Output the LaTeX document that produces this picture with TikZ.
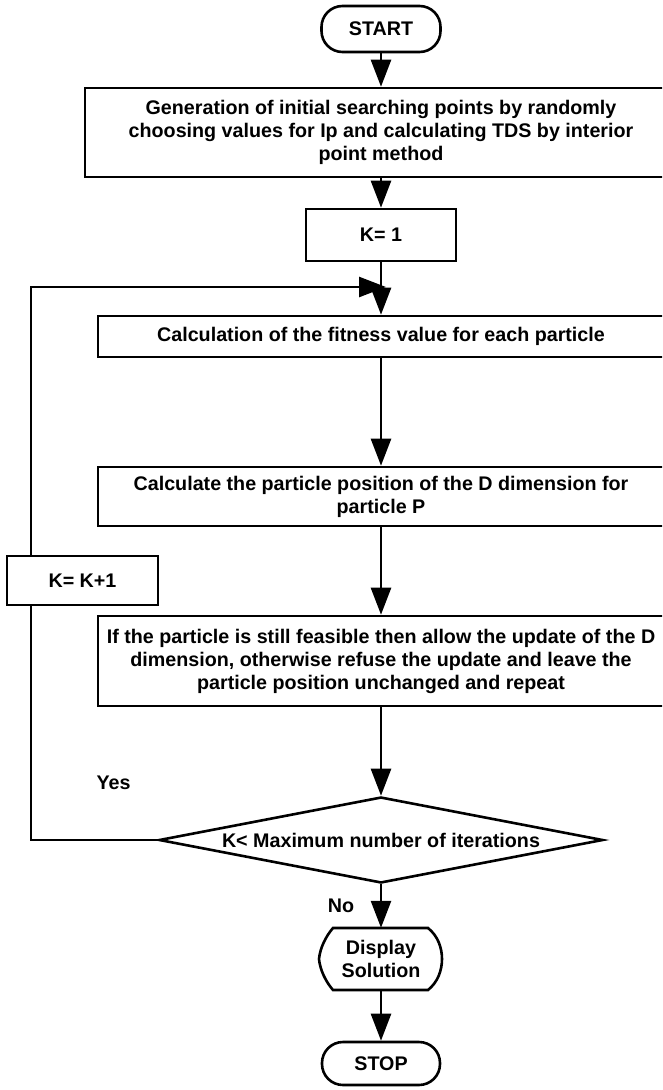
\documentclass[tikz,border=0pt]{standalone}
\usepackage{fontspec}
\setmainfont{Liberation Sans}
\usetikzlibrary{arrows.meta,shapes.geometric}
\begin{document}
\begin{tikzpicture}[x=1pt,y=-1pt,
 every node/.style={font=\fontsize{19.7}{23}\selectfont\bfseries, align=center, inner sep=0pt},
 box/.style={draw, line width=2.6pt, rectangle},
 term/.style={draw, line width=2.6pt, rectangle, rounded corners=21pt},
 conn/.style={line width=2.6pt},
 arr/.style={line width=2.6pt, -{Triangle[length=27pt,width=20pt]}},
]
\useasboundingbox (0,0) rectangle (662,1090);
\clip (0,0) rectangle (662,1090);
\node[term, minimum width=119pt, minimum height=46pt] (start) at (381,29) {START};
\node[box, minimum width=592pt, minimum height=89pt] (gen) at (381,132.5) {Generation of initial searching points by randomly\\choosing values for Ip and calculating TDS by interior\\point method};
\node[box, minimum width=150pt, minimum height=52pt] (k1) at (381,235) {K= 1};
\node[box, minimum width=566pt, minimum height=41pt] (fit) at (381,336.5) {Calculation of the fitness value for each particle};
\node[box, minimum width=566pt, minimum height=59pt] (pos) at (381,496.5) {Calculate the particle position of the D dimension for\\particle P};
\node[box, minimum width=566pt, minimum height=90pt] (upd) at (381,661) {If the particle is still feasible then allow the update of the D\\dimension, otherwise refuse the update and leave the\\particle position unchanged and repeat};
\node[box, minimum width=151pt, minimum height=49pt] (kk) at (82.5,580.5) {K= K+1};
\node[diamond, draw, line width=2.6pt, aspect=5.16, minimum width=444pt, minimum height=86pt] (dec) at (381,840) {K< Maximum number of iterations};
\node[minimum width=122pt, minimum height=62pt] (disp) at (381,959) {Display\\Solution};
\draw[conn] (333,928) -- (428,928) .. controls (438,936) and (442,948) .. (442,959) .. controls (442,970) and (438,982) .. (428,990) -- (333,990) .. controls (326,982) and (320,970) .. (319,959) .. controls (320,948) and (326,936) .. (333,928) -- cycle;
\node[term, minimum width=118pt, minimum height=43pt] (stop) at (381,1063.5) {STOP};
\node (yes) at (113.5,783) {Yes};
\node (no) at (341,906) {No};
\coordinate (j) at (386,287);
\coordinate (lt) at (31,287);
\coordinate (lb) at (31,840);
\draw[arr] (start.south) -- (gen.north);
\draw[arr] (gen.south) -- (k1.north);
\draw[arr] (k1.south) -- (fit.north);
\draw[arr] (lt |- kk.north) -- (lt) -- (j);
\draw[arr] (fit.south) -- (pos.north);
\draw[arr] (pos.south) -- (upd.north);
\draw[arr] (upd.south) -- (dec.north);
\draw[conn] (dec.west) -- (lb) -- (lb |- kk.south);
\draw[arr] (dec.south) -- (disp.north);
\draw[arr] (disp.south) -- (stop.north);
\end{tikzpicture}
\end{document}
